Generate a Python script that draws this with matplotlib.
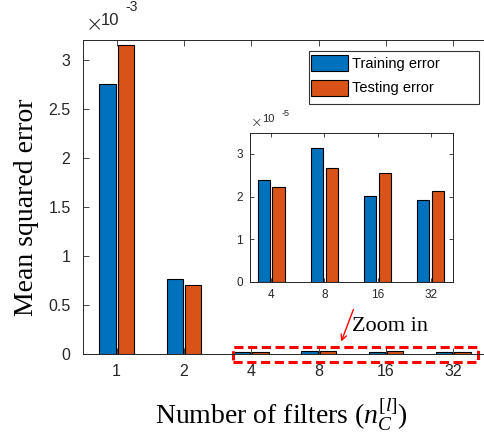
import numpy as np
import matplotlib.pyplot as plt
from matplotlib.ticker import FuncFormatter, MultipleLocator
from matplotlib.patches import Rectangle

filters = ['1', '2', '4', '8', '16', '32']
train_err = [2.755e-3, 0.768e-3, 2.38e-5, 3.13e-5, 2.01e-5, 1.91e-5]
test_err = [3.153e-3, 0.704e-3, 2.22e-5, 2.66e-5, 2.56e-5, 2.12e-5]

zoom_filters = filters[2:]
zoom_train = train_err[2:]
zoom_test = test_err[2:]

blue = '#0072BD'
orange = '#D95319'
txt = '#262626'
sans = 'Liberation Sans'
serif = 'Liberation Serif'

plt.rcParams['mathtext.fontset'] = 'custom'
plt.rcParams['mathtext.rm'] = serif
plt.rcParams['mathtext.it'] = serif + ':italic'

fig = plt.figure(figsize=(4.84, 4.36), dpi=100)

# main bar chart
ax = fig.add_axes([83 / 484, 82 / 436, 404 / 484, 313.6 / 436])
x = np.arange(1, len(filters) + 1)
w = 0.24
ax.bar(x - 0.135, train_err, w, color=blue, edgecolor='k', linewidth=0.8, label='Training error')
ax.bar(x + 0.135, test_err, w, color=orange, edgecolor='k', linewidth=0.8, label='Testing error')
ax.set_xlim(0.5, 6.5)
ax.set_ylim(0, 3.2e-3)
ax.set_xticks(x)
ax.set_xticklabels(filters)
ax.yaxis.set_major_locator(MultipleLocator(0.5e-3))
ax.yaxis.set_major_formatter(FuncFormatter(lambda v, p: '%g' % round(v * 1e3, 3)))
ax.tick_params(direction='in', top=True, right=False, length=4, width=0.6,
               labelsize=11.5, colors=txt)
ax.tick_params(axis='y', pad=9)
ax.tick_params(axis='x', pad=7)
for lab in ax.get_xticklabels() + ax.get_yticklabels():
    lab.set_family(sans)
ax.spines['right'].set_visible(False)
for s in ['left', 'top', 'bottom']:
    ax.spines[s].set_color(txt)
    ax.spines[s].set_linewidth(0.7)
ax.text(0.006, 1.018, '\u00d7', transform=ax.transAxes, fontsize=15, color=txt,
        va='bottom', family='DejaVu Sans', fontweight='light')
ax.text(0.045, 1.04, '10', transform=ax.transAxes, fontsize=12, color=txt,
        va='bottom', family=sans)
ax.text(0.105, 1.083, '-3', transform=ax.transAxes, fontsize=10, color=txt,
        va='bottom', family=sans)
ax.set_ylabel('Mean squared error', family=serif, fontsize=20)
ax.yaxis.set_label_coords(-0.109, 0.469)
ax.set_xlabel(r'Number of filters ($n_C^{[l]}$)', family=serif, fontsize=20)
ax.xaxis.set_label_coords(0.49, -0.135)

# dashed box around the small values plus the arrow to the inset
ax.add_patch(Rectangle((2.735, -0.0786e-3), 6.37 - 2.735, 0.153e-3, fill=False,
                       edgecolor='#FF0000', linestyle=(0, (3, 1.5)), linewidth=2.2,
                       clip_on=False))
ax.annotate('', xy=(4.32, 0.10e-3), xytext=(4.53, 0.48e-3),
            arrowprops=dict(arrowstyle='->', color='#FF0000', lw=1.0))
ax.text(4.5, 0.28e-3, 'Zoom in', family=serif, fontsize=16, va='center', ha='left')

# legend with the wide box
fig.legend(loc='upper left', bbox_to_anchor=(311 / 484, 1 - 55 / 436),
           prop={'family': sans, 'size': 10.5}, frameon=False,
           handlelength=2.55, handleheight=1.3, borderpad=0.0,
           labelspacing=0.6, handletextpad=0.25, borderaxespad=0)
fig.add_artist(Rectangle((309 / 484, 1 - 104.3 / 436), 170 / 484, 53.6 / 436,
                         transform=fig.transFigure, fill=False,
                         edgecolor='#333333', linewidth=0.8))

# inset with the 4..32 filters
ins = fig.add_axes([250 / 484, (436 - 281.7) / 436, 203 / 484, 149 / 436])
xi = np.arange(1, len(zoom_filters) + 1)
ins.bar(xi - 0.14, zoom_train, 0.235, color=blue, edgecolor='k', linewidth=0.8)
ins.bar(xi + 0.14, zoom_test, 0.235, color=orange, edgecolor='k', linewidth=0.8)
ins.set_xlim(0.6, 4.42)
ins.set_ylim(0, 3.5e-5)
ins.set_xticks(xi)
ins.set_xticklabels(zoom_filters)
ins.set_yticks([0, 1e-5, 2e-5, 3e-5])
ins.yaxis.set_major_formatter(FuncFormatter(lambda v, p: '%g' % round(v * 1e5, 3)))
ins.tick_params(direction='in', top=True, right=True, length=3, width=0.6,
                labelsize=8.5, colors=txt, pad=5)
for lab in ins.get_xticklabels() + ins.get_yticklabels():
    lab.set_family(sans)
for s in ins.spines.values():
    s.set_color(txt)
    s.set_linewidth(0.7)
ins.text(0.004, 1.02, '\u00d7', transform=ins.transAxes, fontsize=10, color=txt,
         va='bottom', family='DejaVu Sans', fontweight='light')
ins.text(0.059, 1.06, '10', transform=ins.transAxes, fontsize=8, color=txt,
         va='bottom', family=sans)
ins.text(0.156, 1.1, '-5', transform=ins.transAxes, fontsize=6.5, color=txt,
         va='bottom', family=sans)

fig.savefig('out.png', dpi=100)
